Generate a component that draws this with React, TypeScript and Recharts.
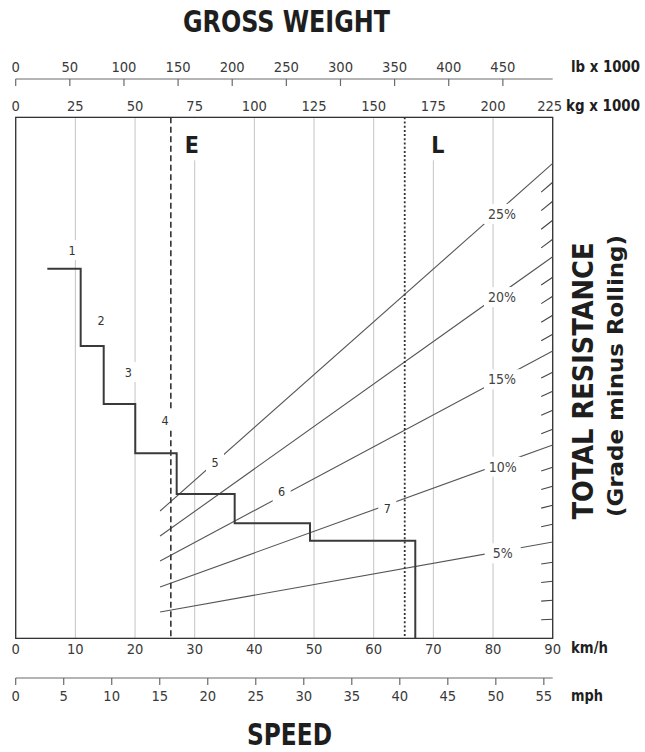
import React from 'react';
import {
  ComposedChart,
  Line,
  XAxis,
  YAxis,
  CartesianGrid,
  ReferenceLine,
  ReferenceDot,
  ReferenceArea,
} from 'recharts';

// ---------- axes ----------
const kmhTicks = [0, 10, 20, 30, 40, 50, 60, 70, 80, 90];
const mphTicks = [0, 5, 10, 15, 20, 25, 30, 35, 40, 45, 50, 55];
const kgTicks = [0, 25, 50, 75, 100, 125, 150, 175, 200, 225];
const lbTicks = [0, 50, 100, 150, 200, 250, 300, 350, 400, 450];
const KMH_MAX = 90;
const MPH_MAX = 55.923;
const KG_MAX = 225;
const LB_MAX = 496.04;
const RIM_MAX = 60;
const rimGridTicks = [0, 20, 40, 60];

// ---------- speed (retarder) curve, per gear ----------
const gearNames = ['1', '2', '3', '4', '5', '6', '7'];
const gearStartKmh = [5.3, 10.89, 14.75, 20.04, 26.98, 36.7, 49.32];
const gearEndKmh = 66.97;
const gearRimpull = [42.56, 33.66, 26.98, 21.31, 16.62, 13.24, 11.24];
const gearLabelKmh = [9.44, 14.3, 18.87, 25.02, 33.4, 44.58, 62.28];
const gearLabelRim = [44.72, 36.66, 30.67, 25.14, 20.3, 16.88, 14.97];

// ---------- grade lines ----------
const gradeNames = ['5%', '10%', '15%', '20%', '25%'];
const gradeStartKg = 60.5;
const gradeEndKg = 225;
const gradeStartRim = [3.03, 5.91, 8.9, 11.78, 14.66];
const gradeEndRim = [11.09, 22.26, 33.09, 43.95, 54.7];
const gradeLabelKmh = [81.62, 81.62, 81.5, 81.5, 81.5];
const gradeLabelRim = [9.79, 19.76, 29.83, 39.3, 48.86];

// ---------- right-edge resistance scale ----------
const scaleTicksPct = [1, 2, 3, 4, 6, 7, 8, 9, 11, 12, 13, 14, 16, 17, 18, 19, 21, 22, 23, 24];
const SCALE_PCT_MAX = 27.42;

// ---------- weight markers ----------
const emptyKg = 65;
const loadedKg = 163;
const weightMarkNames = ['E', 'L'];
const weightMarkKmh = [29.5, 70.73];
const weightMarkRim = [56.89, 56.89];

const stepData = [
  ...gearStartKmh.map((x, i) => ({ x, y: gearRimpull[i] })),
  { x: gearEndKmh, y: 0 },
];
const gradeData = gradeNames.map((_, i) => [
  { x: gradeStartKg, y: gradeStartRim[i] },
  { x: gradeEndKg, y: gradeEndRim[i] },
]);

const FONT = "'DejaVu Sans Condensed', 'DejaVu Sans', sans-serif";
const tickText: any = { fontFamily: FONT, fontSize: 14.6, fill: '#3a3a3a' };
const boldText: any = { fontFamily: FONT, fontWeight: 'bold', fill: '#1e1e1e' };

const LbTick = (p: any) => (
  <g>
    <line x1={p.x} y1={p.y} x2={p.x} y2={p.y + 7} stroke="#6a6a6a" strokeWidth={1.2} />
    <text x={p.x} y={p.y - 6.7} textAnchor="middle" style={tickText}>{p.payload.value}</text>
  </g>
);
const KgTick = (p: any) => (
  <text
    x={p.x + (p.payload.value === KG_MAX ? -3 : 0)}
    y={p.y - 6.3}
    textAnchor="middle"
    style={tickText}
  >
    {p.payload.value}
  </text>
);
const KmhTick = (p: any) => (
  <text x={p.x} y={p.y + 16} textAnchor="middle" style={tickText}>{p.payload.value}</text>
);
const MphTick = (p: any) => (
  <g>
    <line x1={p.x} y1={p.y} x2={p.x} y2={p.y + 7} stroke="#6a6a6a" strokeWidth={1.2} />
    <text x={p.x} y={p.y + 22.7} textAnchor="middle" style={tickText}>{p.payload.value}</text>
  </g>
);
const PLOT_W = 537;
const PLOT_H = 521;
const PLOT_RIGHT = 552.7;
const ScaleTick = (p: any) => {
  const v = p.payload.value;
  const len = 11.5;
  const slope = ((v / SCALE_PCT_MAX) * PLOT_H) / PLOT_W;
  return (
    <line
      x1={PLOT_RIGHT - len}
      y1={p.y + len * slope}
      x2={PLOT_RIGHT}
      y2={p.y}
      stroke="#444"
      strokeWidth={1.1}
    />
  );
};

const TopTitles = () => (
  <g>
    <text x={183} y={32} textLength={207} lengthAdjust="spacingAndGlyphs" style={{ ...boldText, fontSize: 30 }}>
      GROSS WEIGHT
    </text>
    <text x={571} y={72.3} textLength={69} lengthAdjust="spacingAndGlyphs" style={{ ...boldText, fontSize: 15.5 }}>
      lb x 1000
    </text>
  </g>
);
const KgTitle = () => (
  <text x={566} y={111} textLength={74} lengthAdjust="spacingAndGlyphs" style={{ ...boldText, fontSize: 15.5 }}>
    kg x 1000
  </text>
);
const KmhTitle = () => (
  <text x={571} y={652.7} textLength={37} lengthAdjust="spacingAndGlyphs" style={{ ...boldText, fontSize: 15.5 }}>
    km/h
  </text>
);
const BottomTitles = () => (
  <g>
    <text x={571} y={701} textLength={32} lengthAdjust="spacingAndGlyphs" style={{ ...boldText, fontSize: 15.5 }}>
      mph
    </text>
    <text x={247} y={745} textLength={85} lengthAdjust="spacingAndGlyphs" style={{ ...boldText, fontSize: 30 }}>
      SPEED
    </text>
  </g>
);
const RightTitles = () => (
  <g>
    <text
      x={593}
      y={381}
      transform="rotate(-90, 593, 381)"
      textAnchor="middle"
      textLength={277}
      lengthAdjust="spacingAndGlyphs"
      style={{ ...boldText, fontSize: 27.5 }}
    >
      TOTAL RESISTANCE
    </text>
    <text
      x={623}
      y={376}
      transform="rotate(-90, 623, 376)"
      textAnchor="middle"
      textLength={282}
      lengthAdjust="spacingAndGlyphs"
      style={{ ...boldText, fontSize: 22 }}
    >
      (Grade minus Rolling)
    </text>
  </g>
);

const makeBox =
  (text: string, fontSize: number, w: number, top: number, bottom: number, bold = false, color = '#333') =>
  (props: any) => {
    const { cx, cy } = props;
    return (
      <g>
        <rect x={cx - w / 2} y={cy - top} width={w} height={top + bottom} fill="#ffffff" />
        <text
          x={cx}
          y={cy + fontSize * 0.365}
          textAnchor="middle"
          style={{ fontFamily: FONT, fontSize, fill: color, fontWeight: bold ? 'bold' : 'normal' }}
        >
          {text}
        </text>
      </g>
    );
  };

export default function App() {
  return (
    <div style={{ position: 'absolute', left: 0, top: 0, width: 645, height: 752, background: '#fff' }}>
      <ComposedChart
        width={645}
        height={752}
        margin={{ top: 39, right: 82.3, bottom: 44, left: 15.7 }}
      >
        <XAxis
          xAxisId="kg"
          orientation="top"
          type="number"
          dataKey="x"
          domain={[0, KG_MAX]}
          allowDataOverflow
          ticks={kgTicks}
          interval={0}
          height={38.3}
          tickSize={0}
          tickMargin={0}
          axisLine={false}
          tickLine={false}
          tick={KgTick}
          label={<KgTitle />}
        />
        <XAxis
          xAxisId="lb"
          orientation="top"
          type="number"
          dataKey="x"
          domain={[0, LB_MAX]}
          allowDataOverflow
          ticks={lbTicks}
          interval={0}
          height={40}
          tickSize={0}
          tickMargin={0}
          axisLine={{ stroke: '#6a6a6a', strokeWidth: 1.2 }}
          tickLine={false}
          tick={LbTick}
          label={<TopTitles />}
        />
        <XAxis
          xAxisId="kmh"
          orientation="bottom"
          type="number"
          dataKey="x"
          domain={[0, KMH_MAX]}
          allowDataOverflow
          ticks={kmhTicks}
          interval={0}
          height={39.7}
          tickSize={0}
          tickMargin={0}
          axisLine={false}
          tickLine={false}
          tick={KmhTick}
          label={<KmhTitle />}
        />
        <XAxis
          xAxisId="mph"
          orientation="bottom"
          type="number"
          dataKey="x"
          domain={[0, MPH_MAX]}
          allowDataOverflow
          ticks={mphTicks}
          interval={0}
          height={30}
          tickSize={0}
          tickMargin={0}
          axisLine={{ stroke: '#6a6a6a', strokeWidth: 1.2 }}
          tickLine={false}
          tick={MphTick}
          label={<BottomTitles />}
        />
        <YAxis
          yAxisId="rim"
          orientation="left"
          type="number"
          domain={[0, RIM_MAX]}
          allowDataOverflow
          ticks={rimGridTicks}
          width={0}
          tick={false}
          axisLine={false}
          tickLine={false}
        />
        <YAxis
          yAxisId="grade"
          orientation="right"
          type="number"
          domain={[0, SCALE_PCT_MAX]}
          allowDataOverflow
          ticks={scaleTicksPct}
          interval={0}
          width={10}
          tickSize={0}
          tickMargin={0}
          axisLine={false}
          tickLine={false}
          tick={ScaleTick}
          label={<RightTitles />}
        />

        <CartesianGrid xAxisId="kmh" yAxisId="rim" stroke="#c4c4c4" strokeWidth={1} />

        <ReferenceArea
          xAxisId="kmh"
          yAxisId="rim"
          x1={0}
          x2={KMH_MAX}
          y1={0}
          y2={RIM_MAX}
          fill="none"
          fillOpacity={0}
          stroke="#333"
          strokeWidth={1.3}
        />

        {gradeData.map((d, i) => (
          <Line
            key={gradeNames[i]}
            xAxisId="kg"
            yAxisId="rim"
            data={d}
            dataKey="y"
            type="linear"
            stroke="#555"
            strokeWidth={1.1}
            dot={false}
            activeDot={false}
            isAnimationActive={false}
          />
        ))}

        <ReferenceLine
          xAxisId="kg"
          yAxisId="rim"
          x={emptyKg}
          stroke="#333"
          strokeWidth={1.6}
          strokeDasharray="6 3.5"
        />
        <ReferenceLine
          xAxisId="kg"
          yAxisId="rim"
          x={loadedKg}
          stroke="#333"
          strokeWidth={1.8}
          strokeDasharray="2 2.2"
        />

        <Line
          xAxisId="kmh"
          yAxisId="rim"
          data={stepData}
          dataKey="y"
          type="stepAfter"
          stroke="#3a3a3a"
          strokeWidth={2}
          dot={false}
          activeDot={false}
          isAnimationActive={false}
        />

        {gearNames.map((g, i) => (
          <ReferenceDot
            key={'g' + g}
            xAxisId="kmh"
            yAxisId="rim"
            x={gearLabelKmh[i]}
            y={gearLabelRim[i]}
            r={1}
            shape={makeBox(g, 12.5, 18, 10, 10)}
          />
        ))}
        {gradeNames.map((g, i) => (
          <ReferenceDot
            key={'p' + g}
            xAxisId="kmh"
            yAxisId="rim"
            x={gradeLabelKmh[i]}
            y={gradeLabelRim[i]}
            r={1}
            shape={makeBox(g, 14, 36, 10, 10, false, '#444')}
          />
        ))}
        {weightMarkNames.map((g, i) => (
          <ReferenceDot
            key={'w' + g}
            xAxisId="kmh"
            yAxisId="rim"
            x={weightMarkKmh[i]}
            y={weightMarkRim[i]}
            r={1}
            shape={makeBox(g, 23, 22, 26, 16, true, '#1e1e1e')}
          />
        ))}
      </ComposedChart>
    </div>
  );
}
